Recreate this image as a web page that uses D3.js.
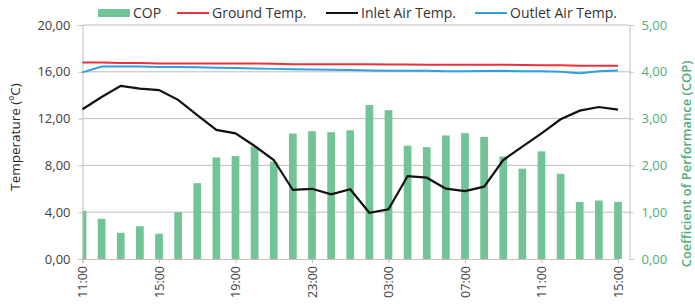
<!DOCTYPE html>
<html>
<head>
<meta charset="utf-8">
<script src="https://cdn.jsdelivr.net/npm/d3@7"></script>
<style>
  body { margin: 0; background: #fff; }
  svg { font-family: "Open Sans", "Noto Sans", sans-serif; }
</style>
</head>
<body>
<svg width="695" height="308"></svg>
<script>
const hours = ["11:00","12:00","13:00","14:00","15:00","16:00","17:00","18:00","19:00","20:00",
  "21:00","22:00","23:00","00:00","01:00","02:00","03:00","04:00","05:00","06:00",
  "07:00","08:00","09:00","10:00","11:00","12:00","13:00","14:00","15:00"];
const cop = [1.03, 0.86, 0.56, 0.70, 0.54, 1.00, 1.62, 2.17, 2.20, 2.40,
  2.08, 2.68, 2.73, 2.71, 2.75, 3.29, 3.18, 2.42, 2.39, 2.64,
  2.69, 2.61, 2.19, 1.93, 2.30, 1.82, 1.22, 1.25, 1.22];
const groundTemp = [16.8, 16.8, 16.75, 16.75, 16.72, 16.72, 16.7, 16.7, 16.7, 16.7,
  16.68, 16.65, 16.65, 16.65, 16.65, 16.65, 16.63, 16.63, 16.6, 16.6,
  16.6, 16.6, 16.6, 16.58, 16.56, 16.55, 16.52, 16.52, 16.52];
const inletTemp = [12.8, 13.85, 14.8, 14.56, 14.44, 13.6, 12.3, 11.03, 10.74, 9.66,
  8.46, 5.9, 6.0, 5.53, 5.96, 3.95, 4.25, 7.09, 6.95, 6.01,
  5.81, 6.18, 8.46, 9.6, 10.74, 11.94, 12.68, 12.99, 12.76];
const outletTemp = [15.95, 16.45, 16.45, 16.45, 16.42, 16.4, 16.38, 16.35, 16.32, 16.28,
  16.25, 16.22, 16.2, 16.18, 16.15, 16.12, 16.1, 16.08, 16.08, 16.05,
  16.05, 16.07, 16.08, 16.05, 16.05, 16.0, 15.88, 16.05, 16.12];
const tempTicks = [0, 4, 8, 12, 16, 20];
const copTicks = [0, 1, 2, 3, 4, 5];
const labelEvery = 4;

const svg = d3.select("svg");
const mLeft = 82.5, mRight = 629.5, mTop = 25, mBottom = 259;
const fmt = v => d3.format(".2f")(v).replace(".", ",");

const x = d3.scaleLinear().domain([0, hours.length - 1]).range([mLeft, 618]);
const yT = d3.scaleLinear().domain([0, 20]).range([mBottom, mTop]);
const yC = d3.scaleLinear().domain([0, 5]).range([mBottom, mTop]);

// grid
svg.append("g").selectAll("line").data(tempTicks.slice(1)).join("line")
  .attr("x1", mLeft).attr("x2", mRight)
  .attr("y1", d => yT(d)).attr("y2", d => yT(d))
  .attr("stroke", "#bdbdbd").attr("stroke-width", 1);

// bars
svg.append("defs").append("clipPath").attr("id", "plot")
  .append("rect").attr("x", mLeft).attr("y", 0).attr("width", mRight - mLeft).attr("height", mBottom);
const bw = 7.7;
svg.append("g").attr("clip-path", "url(#plot)")
  .selectAll("rect").data(cop).join("rect")
  .attr("x", (d, i) => x(i) - bw / 2)
  .attr("width", bw)
  .attr("y", d => yC(d))
  .attr("height", d => mBottom - yC(d))
  .attr("fill", "#72c395");

// axes
const axL = svg.append("g").attr("transform", `translate(${mLeft},0)`)
  .call(d3.axisLeft(yT).tickValues(tempTicks).tickFormat(fmt).tickSize(4).tickPadding(8));
const axR = svg.append("g").attr("transform", `translate(${mRight},0)`)
  .call(d3.axisRight(yC).tickValues(copTicks).tickFormat(fmt).tickSize(4).tickPadding(8));
const axB = svg.append("g").attr("transform", `translate(0,${mBottom})`)
  .call(d3.axisBottom(x).tickValues(d3.range(0, hours.length, labelEvery))
    .tickFormat(i => hours[i]).tickSize(4).tickPadding(4));
[axL, axR, axB].forEach(a => {
  a.select(".domain").attr("stroke", "#bdbdbd");
  a.selectAll(".tick line").attr("stroke", "#bdbdbd");
  a.selectAll("text").attr("font-size", 13).attr("font-family", "Open Sans");
});
axL.selectAll("text").attr("fill", "#404040");
axR.selectAll("text").attr("fill", "#4eae74");
axB.selectAll("text").attr("fill", "#404040").attr("font-size", 12.5)
  .attr("transform", "rotate(-90)")
  .attr("text-anchor", "end")
  .attr("x", -7).attr("y", 0).attr("dy", "0.35em");
axB.select(".domain").attr("stroke", "#d9b8b8");

// lines
const line = d3.line().x((d, i) => x(i)).y(d => yT(d));
svg.append("path").datum(groundTemp).attr("d", line)
  .attr("fill", "none").attr("stroke", "#e8313b").attr("stroke-width", 2);
svg.append("path").datum(outletTemp).attr("d", line)
  .attr("fill", "none").attr("stroke", "#2f9fe0").attr("stroke-width", 2);
svg.append("path").datum(inletTemp).attr("d", line)
  .attr("fill", "none").attr("stroke", "#111").attr("stroke-width", 2.2);

// axis titles
svg.append("text").attr("transform", `translate(20,137) rotate(-90)`)
  .attr("text-anchor", "middle").attr("font-size", 13.5).attr("fill", "#262626")
  .text("Temperature (ºC)");
svg.append("text").attr("transform", `translate(691,164) rotate(-90)`)
  .attr("text-anchor", "middle").attr("font-size", 13).attr("font-weight", 600).attr("fill", "#4eae74")
  .text("Coefficient of Performance (COP)");

// legend
const leg = [
  { name: "COP", type: "bar", color: "#72c395", x: 98 },
  { name: "Ground Temp.", type: "line", color: "#e8313b", x: 177 },
  { name: "Inlet Air Temp.", type: "line", color: "#111", x: 326 },
  { name: "Outlet Air Temp.", type: "line", color: "#2f9fe0", x: 475 }
];
const lg = svg.append("g").selectAll("g").data(leg).join("g")
  .attr("transform", d => `translate(${d.x},13)`);
lg.filter(d => d.type === "bar").append("rect")
  .attr("x", 0).attr("y", -4).attr("width", 32).attr("height", 8).attr("fill", d => d.color);
lg.filter(d => d.type === "line").append("line")
  .attr("x1", 0).attr("x2", 32).attr("stroke", d => d.color).attr("stroke-width", 2);
lg.append("text").attr("x", 35).attr("dy", "0.35em").attr("font-size", 14).attr("fill", "#333")
  .text(d => d.name);
</script>
</body>
</html>
